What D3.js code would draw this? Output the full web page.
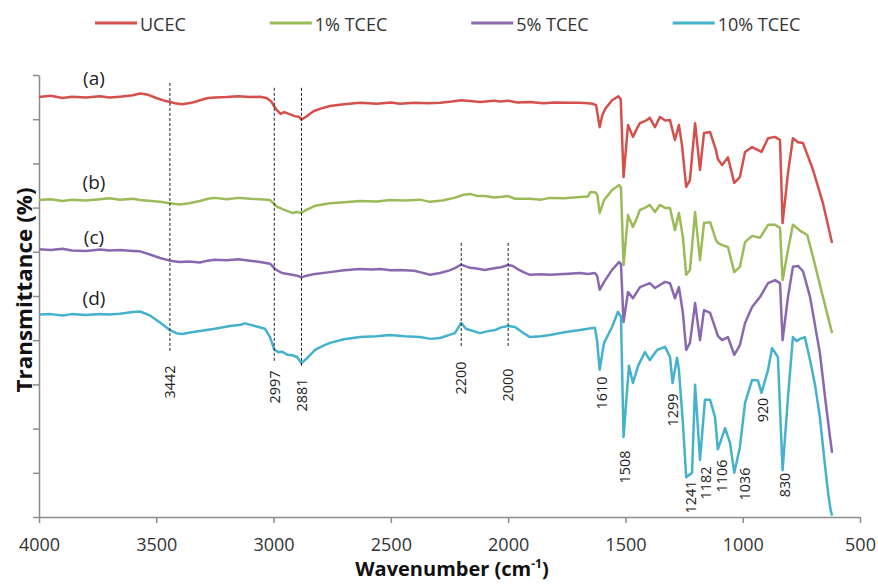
<!DOCTYPE html>
<html>
<head>
<meta charset="utf-8">
<script src="https://cdn.jsdelivr.net/npm/d3@7"></script>
<style>
  html, body { margin: 0; padding: 0; background: #fff; }
  svg { display: block; font-family: "Open Sans", "Noto Sans", sans-serif; }
</style>
</head>
<body>
<svg id="chart" width="878" height="584"></svg>
<script>
// FTIR spectra: [wavenumber (cm-1), transmittance (%, offset for stacking)]
const ucec = [
  [4000,95.0],[3950,95.3],[3900,94.8],[3860,95.1],[3800,94.9],[3740,95.2],[3700,94.9],[3655,95.1],
  [3600,95.4],[3569,95.8],[3540,95.6],[3500,94.8],[3460,94.1],[3420,93.6],[3390,93.4],[3350,93.7],
  [3314,94.3],[3280,94.8],[3250,94.9],[3200,95.0],[3150,95.2],[3100,95.0],[3058,95.1],[3030,94.8],
  [3010,94.0],[2990,92.3],[2970,91.2],[2955,91.6],[2935,91.2],[2910,90.7],[2890,90.5],[2881,89.9],
  [2860,90.6],[2830,91.8],[2800,92.4],[2759,93.0],[2700,93.4],[2632,93.7],[2560,93.5],[2500,93.8],
  [2461,93.5],[2400,93.7],[2340,93.6],[2290,93.7],[2240,94.0],[2200,94.3],[2163,94.1],[2120,93.9],
  [2060,94.2],[2035,94.0],[2000,94.2],[1960,93.8],[1907,93.9],[1850,93.6],[1800,93.8],[1740,93.7],
  [1694,93.7],[1660,93.6],[1640,93.5],[1625,93.2],[1610,88.2],[1598,91.0],[1585,92.4],[1557,94.3],
  [1530,95.2],[1520,94.5],[1508,76.9],[1489,88.7],[1468,86.0],[1450,88.0],[1438,89.1],[1415,89.6],
  [1396,90.3],[1374,88.2],[1353,90.5],[1330,89.7],[1310,89.8],[1289,85.3],[1272,88.7],[1259,84.2],
  [1241,74.7],[1225,76.2],[1203,89.1],[1182,78.5],[1165,86.9],[1139,87.1],[1114,83.0],[1106,81.0],
  [1088,79.6],[1063,81.4],[1036,75.6],[1012,76.9],[990,82.6],[960,83.7],[920,82.6],[892,85.7],
  [862,86.0],[841,85.3],[830,66.5],[807,77.8],[786,85.7],[764,84.8],[743,84.6],[700,78.5],
  [658,71.0],[619,62.0]
];

const tcec1 = [
  [4000,71.7],[3950,71.9],[3900,71.5],[3860,71.8],[3800,71.6],[3740,71.9],[3700,72.1],[3655,71.8],
  [3600,72.0],[3569,71.7],[3520,71.5],[3484,71.3],[3442,71.0],[3400,70.7],[3360,71.0],[3314,71.5],
  [3280,72.0],[3250,72.2],[3200,71.9],[3150,72.2],[3100,72.0],[3058,71.9],[3015,71.7],[2997,70.8],
  [2985,70.2],[2964,69.7],[2940,69.2],[2921,68.8],[2900,69.0],[2881,68.8],[2860,69.5],[2823,70.4],
  [2759,71.0],[2700,71.2],[2632,71.5],[2560,71.4],[2504,71.7],[2440,71.6],[2376,71.8],[2333,71.3],
  [2280,71.6],[2230,72.2],[2190,72.9],[2163,73.1],[2130,72.6],[2100,72.6],[2060,72.3],[2035,72.4],
  [2000,72.6],[1971,72.0],[1907,72.0],[1860,71.8],[1822,72.2],[1760,72.1],[1694,72.4],[1660,72.5],
  [1650,73.5],[1630,73.5],[1620,72.9],[1610,68.8],[1598,70.6],[1591,71.7],[1557,74.0],[1527,75.1],
  [1519,74.5],[1508,57.0],[1489,68.3],[1468,65.6],[1450,67.8],[1438,69.5],[1415,70.0],[1396,70.6],
  [1374,69.0],[1353,70.6],[1330,69.9],[1310,69.9],[1289,64.9],[1272,68.8],[1255,63.3],[1241,54.8],
  [1225,55.9],[1203,69.0],[1182,58.1],[1165,66.5],[1139,66.7],[1114,62.7],[1106,62.0],[1088,61.5],
  [1063,61.1],[1036,55.4],[1012,56.6],[990,62.2],[960,63.6],[926,63.2],[892,66.1],[862,66.1],
  [841,65.4],[830,53.6],[807,60.4],[786,66.1],[756,64.8],[725,63.8],[700,58.8],[658,49.8],[619,41.6]
];

const tcec5 = [
  [4000,60.6],[3950,60.4],[3900,60.7],[3860,60.3],[3800,60.2],[3740,60.5],[3700,60.3],[3655,60.4],
  [3600,60.2],[3569,60.1],[3527,59.4],[3484,58.6],[3442,58.0],[3400,57.7],[3360,57.8],[3314,57.6],
  [3280,58.0],[3250,58.2],[3200,58.1],[3150,58.3],[3100,58.0],[3058,57.7],[3015,57.3],[2997,56.3],
  [2985,55.8],[2964,55.2],[2940,55.0],[2921,54.8],[2900,54.6],[2881,54.2],[2860,54.6],[2823,55.0],
  [2759,55.4],[2700,55.8],[2632,56.1],[2580,56.0],[2546,56.1],[2500,55.8],[2461,55.9],[2400,55.7],
  [2376,55.4],[2333,54.8],[2290,55.2],[2250,55.8],[2227,56.3],[2200,57.1],[2180,56.7],[2163,56.4],
  [2141,56.3],[2099,55.9],[2060,56.3],[2030,56.5],[2000,57.0],[1980,56.8],[1960,56.1],[1930,55.3],
  [1907,54.8],[1860,54.9],[1822,54.8],[1760,55.0],[1694,55.2],[1660,55.0],[1630,55.2],[1620,54.5],
  [1610,51.4],[1591,53.2],[1557,55.9],[1527,57.7],[1519,57.2],[1508,44.1],[1489,50.9],[1468,49.5],
  [1438,52.0],[1396,52.9],[1374,51.8],[1331,53.2],[1310,52.9],[1289,49.5],[1272,52.0],[1255,46.2],
  [1241,37.8],[1225,39.4],[1203,48.4],[1182,40.0],[1165,46.8],[1139,46.2],[1114,42.3],[1106,41.0],
  [1088,40.0],[1063,40.7],[1036,36.7],[1012,38.9],[990,43.9],[960,47.5],[926,49.8],[892,52.9],
  [862,53.6],[841,52.9],[830,40.0],[807,49.8],[786,56.6],[764,56.8],[743,55.6],[713,49.8],
  [671,37.1],[649,27.1],[628,18.1],[619,14.5]
];

const tcec10 = [
  [4000,45.8],[3950,45.9],[3900,45.6],[3860,45.9],[3800,45.7],[3740,45.9],[3700,45.8],[3655,46.0],
  [3600,46.4],[3569,46.5],[3527,45.6],[3484,44.0],[3442,42.3],[3410,41.5],[3390,41.4],[3350,41.8],
  [3314,42.1],[3250,42.6],[3186,43.2],[3140,43.5],[3122,43.8],[3080,43.2],[3037,42.6],[3015,40.7],
  [2997,37.9],[2980,37.3],[2964,37.4],[2940,36.7],[2921,36.6],[2900,36.2],[2881,34.8],[2860,35.8],
  [2823,37.8],[2790,38.7],[2759,39.4],[2700,40.2],[2632,40.7],[2560,40.9],[2504,41.2],[2440,40.9],
  [2376,40.7],[2330,40.3],[2290,40.5],[2250,41.2],[2227,41.6],[2200,43.9],[2180,42.6],[2163,42.3],
  [2120,41.6],[2090,42.0],[2056,42.3],[2030,42.9],[2000,43.2],[1971,43.0],[1940,41.8],[1907,40.7],
  [1860,40.9],[1822,41.2],[1760,41.8],[1694,42.3],[1660,42.6],[1630,42.8],[1621,40.0],[1610,33.3],
  [1598,37.2],[1591,39.4],[1557,43.0],[1532,46.4],[1519,45.3],[1508,18.1],[1485,34.2],[1468,30.3],
  [1446,34.2],[1417,37.3],[1396,35.5],[1365,37.8],[1331,38.5],[1310,36.2],[1299,30.3],[1280,36.0],
  [1272,33.3],[1255,21.3],[1241,9.0],[1216,10.0],[1203,29.9],[1182,12.9],[1161,26.5],[1139,26.5],
  [1118,22.6],[1106,15.3],[1075,20.1],[1054,16.7],[1036,10.0],[1012,15.8],[990,25.8],[960,31.0],
  [935,30.9],[920,28.1],[892,33.3],[875,38.2],[850,36.2],[830,10.6],[807,27.1],[786,40.7],
  [770,39.8],[756,40.3],[735,40.7],[713,35.5],[692,30.0],[671,22.6],[650,12.0],[636,5.5],
  [625,1.5],[619,0.3]
];

const seriesNames = ["UCEC", "1% TCEC", "5% TCEC", "10% TCEC"];
const seriesData = [ucec, tcec1, tcec5, tcec10];
const seriesTags = ["(a)", "(b)", "(c)", "(d)"];
const seriesColors = ["#D4504C", "#9BBB59", "#8A68B0", "#45B2CC"];

// Band assignments marked on the spectra
const markedBands = [3442, 2997, 2881, 2200, 2000];
const peakBands = [1610, 1508, 1299, 1241, 1182, 1106, 1036, 920, 830];

const xTicks = [4000, 3500, 3000, 2500, 2000, 1500, 1000, 500];
const yTicks = d3.range(0, 101, 10);

// ---- layout ----
const plot = { left: 39, right: 860, top: 75, bottom: 517 };

const svg = d3.select("#chart");

const x = d3.scaleLinear().domain([4000, 500]).range([plot.left, plot.right]);
const y = d3.scaleLinear().domain([0, 100]).range([plot.bottom, plot.top]);

const axisColor = "#8c8c8c";

// y axis (no labels, ticks only)
const gy = svg.append("g")
  .attr("transform", `translate(${plot.left},0)`)
  .call(d3.axisLeft(y).tickValues(yTicks).tickFormat("").tickSize(6).tickSizeOuter(0));
gy.select(".domain").attr("stroke", axisColor).attr("stroke-width", 1.5);
gy.selectAll(".tick line").attr("stroke", axisColor).attr("stroke-width", 1.5);

// x axis
const gx = svg.append("g")
  .attr("transform", `translate(0,${plot.bottom})`)
  .call(d3.axisBottom(x).tickValues(xTicks).tickFormat(d3.format("d")).tickSize(6).tickSizeOuter(0));
gx.select(".domain").attr("stroke", axisColor).attr("stroke-width", 1.5);
gx.selectAll(".tick line").attr("stroke", axisColor).attr("stroke-width", 1.5);
gx.selectAll(".tick text")
  .attr("y", 34).attr("dy", 0)
  .attr("font-family", "'Open Sans', sans-serif")
  .attr("font-size", 18)
  .attr("fill", "#333");

// spectra
const line = d3.line().x(d => x(d[0])).y(d => y(d[1]));
svg.append("g").selectAll("path")
  .data(seriesData)
  .join("path")
  .attr("d", line)
  .attr("fill", "none")
  .attr("stroke", (d, i) => seriesColors[i])
  .attr("stroke-width", 2.5)
  .attr("stroke-linejoin", "round");

// dashed marker lines: band -> [top %, bottom %]
const markerSpan = {
  3442: [98.2, 37.3], 2997: [97.1, 35.1], 2881: [97.1, 33.9],
  2200: [62.0, 38.5], 2000: [62.0, 38.5]
};
svg.append("g").selectAll("line")
  .data(markedBands)
  .join("line")
  .attr("x1", d => x(d)).attr("x2", d => x(d))
  .attr("y1", d => y(markerSpan[d][0]))
  .attr("y2", d => y(markerSpan[d][1]))
  .attr("stroke", "#222")
  .attr("stroke-width", 1)
  .attr("stroke-dasharray", "3,2");

// rotated band labels: centre y (px) and small horizontal nudge
const labelPos = {
  3442: [382, 0], 2997: [387, 0], 2881: [395, 0], 2200: [378, 0], 2000: [385, 0],
  1610: [393, 2], 1508: [467, 1], 1299: [410, 0], 1241: [497, 5], 1182: [483, 6],
  1106: [476, 4], 1036: [484, 10], 920: [410, 1], 830: [485, 2]
};
svg.append("g").selectAll("text")
  .data(markedBands.concat(peakBands))
  .join("text")
  .attr("transform", d => `translate(${x(d) + labelPos[d][1]},${labelPos[d][0]}) rotate(-90)`)
  .attr("text-anchor", "middle")
  .attr("dy", "0.35em")
  .attr("font-size", 15)
  .attr("fill", "#222")
  .attr("textLength", d => String(d).length * 8.2)
  .attr("lengthAdjust", "spacingAndGlyphs")
  .text(d => d);

// series tags (a)-(d)
const tagCentreY = [78, 182, 237, 298];
svg.append("g").selectAll("text")
  .data(seriesTags)
  .join("text")
  .attr("x", 94)
  .attr("y", (d, i) => tagCentreY[i])
  .attr("dy", "0.35em")
  .attr("text-anchor", "middle")
  .attr("font-size", 19)
  .attr("fill", "#222")
  .text(d => d);

// axis titles
svg.append("text")
  .attr("transform", `translate(32,${(plot.top + plot.bottom) / 2 - 6}) rotate(-90)`)
  .attr("text-anchor", "middle")
  .attr("font-size", 21)
  .attr("font-weight", "bold")
  .attr("fill", "#111")
  .attr("textLength", 205)
  .attr("lengthAdjust", "spacingAndGlyphs")
  .text("Transmittance (%)");

const xt = svg.append("text")
  .attr("x", 452)
  .attr("y", 576)
  .attr("text-anchor", "middle")
  .attr("font-size", 20)
  .attr("font-weight", "bold")
  .attr("fill", "#111");
xt.append("tspan").text("Wavenumber (cm");
xt.append("tspan").attr("font-size", 12).attr("dy", -8).text("-1");
xt.append("tspan").attr("dy", 8).text(")");

// legend
const legend = svg.append("g");
let lx = 95;
seriesNames.forEach((name, i) => {
  legend.append("line")
    .attr("x1", lx).attr("x2", lx + 42)
    .attr("y1", 23).attr("y2", 23)
    .attr("stroke", seriesColors[i])
    .attr("stroke-width", 3);
  const t = legend.append("text")
    .attr("x", lx + 45)
    .attr("y", 31)
    .attr("font-size", 18)
    .attr("fill", "#333")
    .text(name);
  lx += 45 + t.node().getComputedTextLength() + 84;
});
</script>
</body>
</html>
